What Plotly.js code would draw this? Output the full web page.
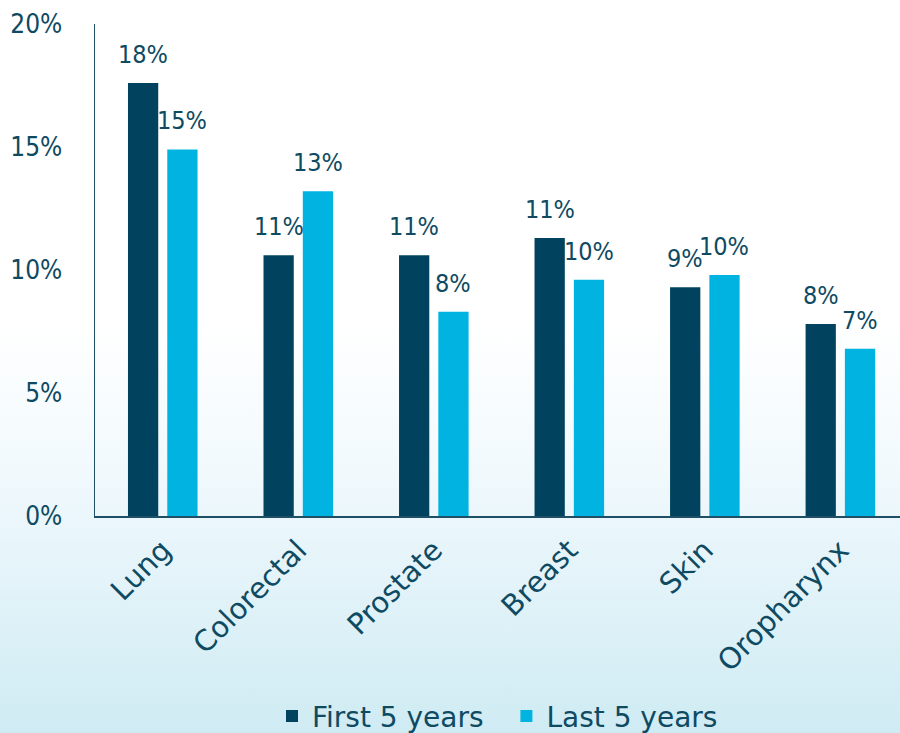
<!DOCTYPE html>
<html>
<head>
<meta charset="utf-8">
<script src="https://cdn.plot.ly/plotly-3.0.1.min.js"></script>
<style>
  html, body { margin: 0; padding: 0; }
  #chart {
    width: 900px; height: 733px;
    background: linear-gradient(to bottom, #ffffff 0%, #ffffff 44%, #f3fafd 62%, #e2f3f9 80%, #cfebf3 100%);
  }
</style>
</head>
<body>
<div id="chart"></div>
<script>
const categories = ["Lung", "Colorectal", "Prostate", "Breast", "Skin", "Oropharynx"];
const firstFive = [17.6, 10.6, 10.6, 11.3, 9.3, 7.8];
const lastFive = [14.9, 13.2, 8.3, 9.6, 9.8, 6.8];
const seriesNames = ["First 5 years", "Last 5 years"];
const yTickVals = [0, 5, 10, 15, 20];
const yTickText = ["0%", "5%", "10%", "15%", "20%"];

const textColor = "#0e4a62";
const condFont = "DejaVu Sans Condensed, DejaVu Sans, sans-serif";
const regFont = "DejaVu Sans, sans-serif";

const traces = [
  {
    type: "bar", name: seriesNames[0] + "\u00a0\u00a0", x: categories, y: firstFive,
    marker: { color: "#01435e" }, hoverinfo: "none"
  },
  {
    type: "bar", name: seriesNames[1], x: categories, y: lastFive,
    marker: { color: "#00b3e0" }, hoverinfo: "none"
  }
];

// value labels placed via data coordinates
const annotations = [];
[firstFive, lastFive].forEach((vals, s) => {
  vals.forEach((v, i) => {
    annotations.push({
      x: categories[i], y: v, xref: "x", yref: "y",
      text: Math.round(v) + "%", showarrow: false,
      xshift: s === 0 ? -19.5 : 19.5, yanchor: "bottom", yshift: 12,
      font: { family: condFont, size: 25, color: textColor }
    });
  });
});

const layout = {
  width: 900, height: 733,
  margin: { l: 95, r: 0, t: 24, b: 217, autoexpand: false },
  paper_bgcolor: "rgba(0,0,0,0)",
  plot_bgcolor: "rgba(0,0,0,0)",
  font: { family: condFont, color: textColor },
  barmode: "group",
  bargap: 0.42,
  bargroupgap: 0.23,
  showlegend: true,
  legend: {
    orientation: "h", x: 0.5, xanchor: "center", y: -0.407, yanchor: "middle",
    font: { family: regFont, size: 28, color: textColor },
    bgcolor: "rgba(0,0,0,0)", itemwidth: 30
  },
  annotations: annotations,
  xaxis: {
    range: [-0.5, 5.44],
    tickangle: -45,
    tickfont: { family: regFont, size: 29, color: textColor },
    showline: true, linecolor: "#1d4f66", linewidth: 1.5,
    ticks: "", showgrid: false, zeroline: false,
    ticklabelstandoff: 4
  },
  yaxis: {
    range: [0, 20],
    tickvals: yTickVals, ticktext: yTickText,
    tickfont: { family: condFont, size: 26, color: textColor },
    showline: true, linecolor: "#1d4f66", linewidth: 1.5,
    ticks: "", showgrid: false, zeroline: false,
    ticklabelstandoff: 26
  }
};

Plotly.newPlot("chart", traces, layout, { displayModeBar: false, staticPlot: true });
</script>
</body>
</html>
